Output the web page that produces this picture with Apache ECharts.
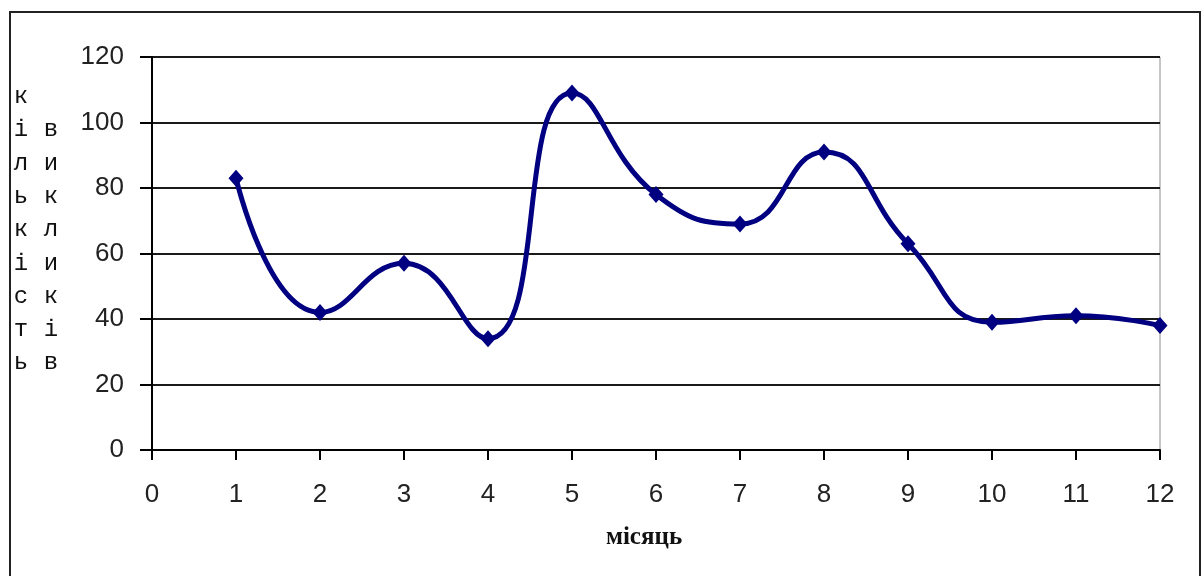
<!DOCTYPE html>
<html>
<head>
<meta charset="utf-8">
<script src="https://cdn.jsdelivr.net/npm/echarts@6/dist/echarts.min.js"></script>
<style>html,body{margin:0;padding:0;background:#fff}#c{width:1203px;height:576px}</style>
</head>
<body>
<div id="c"></div>
<script>
// Data
const months = [1, 2, 3, 4, 5, 6, 7, 8, 9, 10, 11, 12];
const calls = [83, 42, 57, 34, 109, 78, 69, 91, 63, 39, 41, 38];
const yTicks = [0, 20, 40, 60, 80, 100, 120];
const xTicks = [0, 1, 2, 3, 4, 5, 6, 7, 8, 9, 10, 11, 12];
const yNameCol1 = 'кількість';
const yNameCol2 = 'викликів';
const xName = 'місяць';

const tickFont = '"Liberation Sans", Arial, sans-serif';

const chart = echarts.init(document.getElementById('c'), null, {renderer: 'canvas'});
chart.setOption({
  backgroundColor: '#ffffff',
  animation: false,
  grid: {left: 152, right: 43, top: 57, bottom: 126, show: true, borderColor: '#8c8c8c', borderWidth: 1, backgroundColor: 'transparent'},
  xAxis: {
    type: 'value',
    min: xTicks[0], max: xTicks[xTicks.length - 1], interval: 1,
    axisLine: {show: true, onZero: false, lineStyle: {color: '#000', width: 2}},
    axisTick: {show: true, length: 10, lineStyle: {color: '#000', width: 2}},
    axisLabel: {margin: 32, fontSize: 26, color: '#222', fontFamily: tickFont},
    splitLine: {show: false}
  },
  yAxis: {
    type: 'value',
    min: yTicks[0], max: yTicks[yTicks.length - 1], interval: 20,
    axisLine: {show: true, lineStyle: {color: '#000', width: 2}},
    axisTick: {show: true, length: 12, lineStyle: {color: '#000', width: 2}},
    axisLabel: {margin: 28, fontSize: 26, color: '#222', fontFamily: tickFont},
    splitLine: {show: true, lineStyle: {color: '#1a1a1a', width: 2}}
  },
  series: [{
    type: 'line',
    data: months.map((m, i) => [m, calls[i]]),
    smooth: 0.5,
    symbol: 'diamond',
    symbolSize: [15, 17],
    showAllSymbol: true,
    lineStyle: {color: '#000080', width: 5},
    itemStyle: {color: '#000080'}
  }],
  graphic: [
    {type: 'rect', shape: {x: 10, y: 12, width: 1190, height: 620}, style: {fill: 'none', stroke: '#222', lineWidth: 2}, silent: true, z: -1},
    {type: 'text', x: 21, y: 80, style: {text: yNameCol1.split('').join('\n'), font: '24px "Liberation Mono", "DejaVu Sans Mono", monospace', fill: '#111', align: 'center', verticalAlign: 'top', lineHeight: 33.3}, z: 10},
    {type: 'text', x: 51, y: 113.3, style: {text: yNameCol2.split('').join('\n'), font: '24px "Liberation Mono", "DejaVu Sans Mono", monospace', fill: '#111', align: 'center', verticalAlign: 'top', lineHeight: 33.3}, z: 10},
    {type: 'text', x: 644, y: 538, style: {text: xName, font: 'bold 25px "Liberation Serif", "DejaVu Serif", serif', fill: '#111', align: 'center', verticalAlign: 'middle'}, z: 10}
  ]
});
</script>
</body>
</html>
